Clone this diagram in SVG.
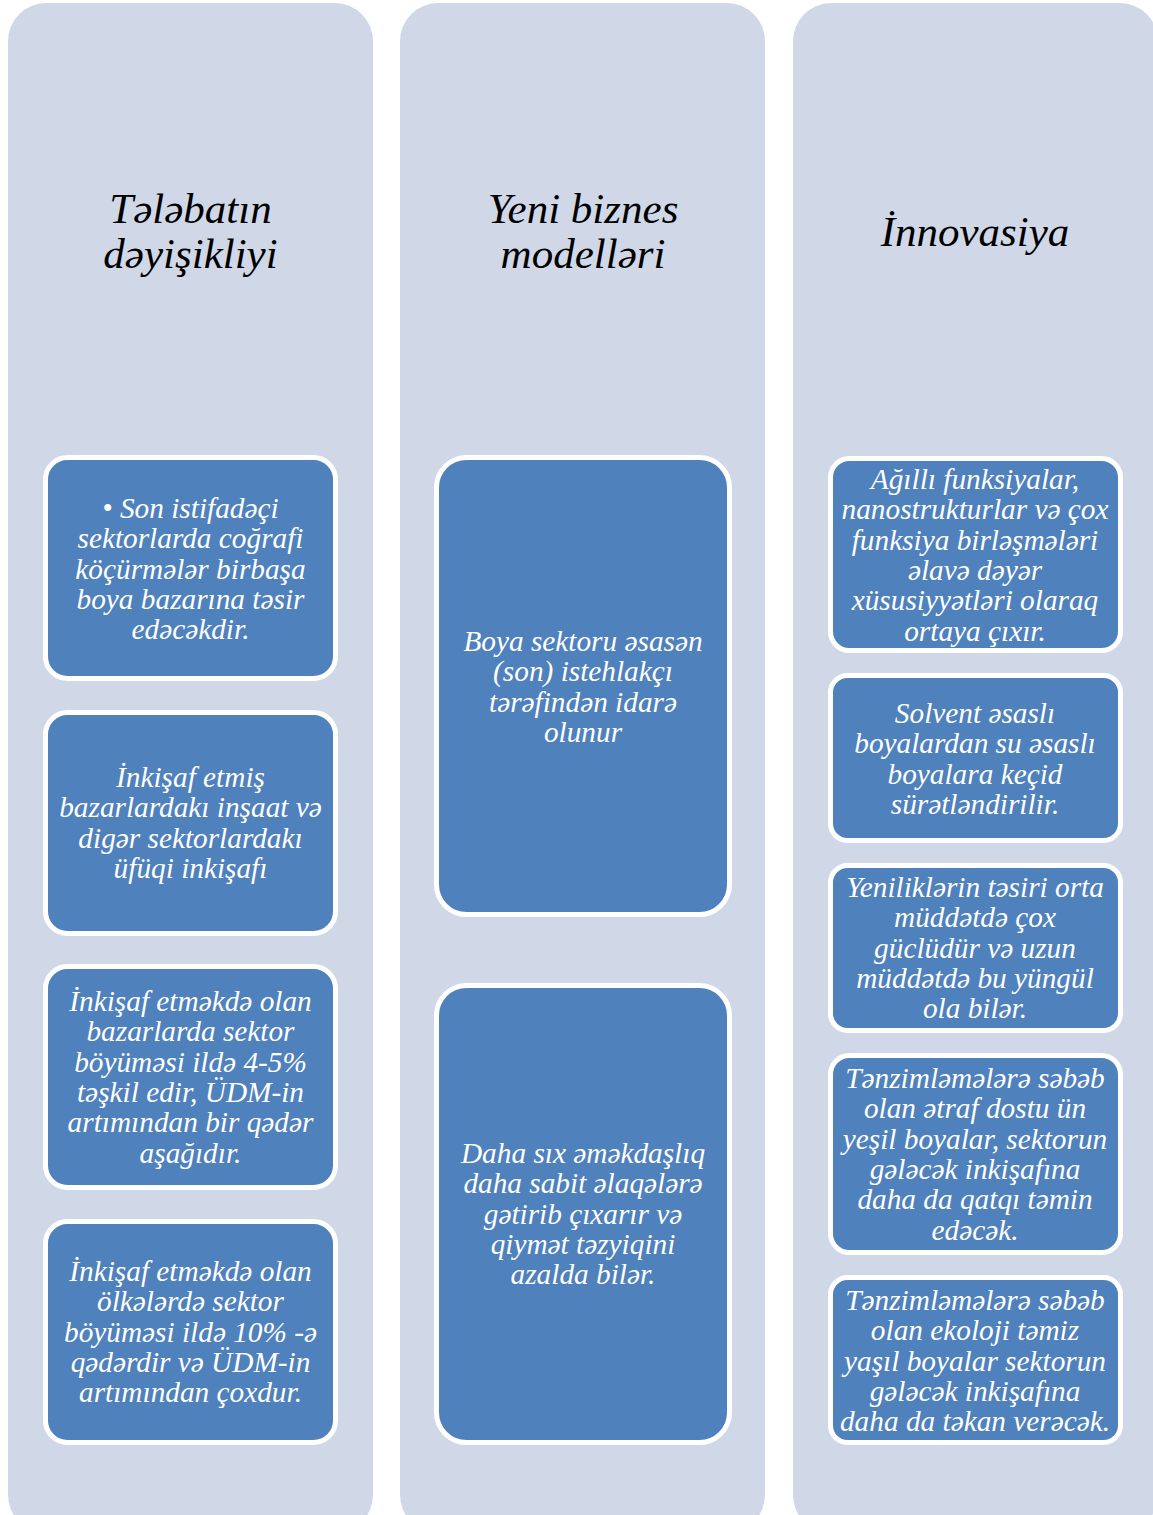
<svg xmlns="http://www.w3.org/2000/svg" width="1153" height="1515" viewBox="0 0 1153 1515">
<style>
.col{fill:#D0D8E8;}
.box{fill:#4F81BD;stroke:#FFFFFF;stroke-width:5;}
.title{font-family:"Liberation Serif","Times New Roman",serif;font-style:italic;font-size:43px;fill:#000000;text-anchor:middle;}
.t{font-family:"Liberation Serif","Times New Roman",serif;font-style:italic;font-size:29.3px;fill:#FFFFFF;text-anchor:middle;}
</style>
<rect width="1153" height="1515" fill="#FFFFFF"/>
<g id="col1">
<rect class="col" x="8" y="3" width="365" height="1530" rx="38"/>
<text class="title" x="190.5" y="223">Tələbatın<tspan x="190.5" dy="45">dəyişikliyi</tspan></text>
</g>
<g id="col2">
<rect class="col" x="400" y="3" width="365" height="1530" rx="38"/>
<text class="title" x="583" y="223">Yeni biznes<tspan x="583" dy="45">modelləri</tspan></text>
</g>
<g id="col3">
<rect class="col" x="793" y="3" width="365" height="1530" rx="38"/>
<text class="title" x="975" y="246">İnnovasiya</text>
</g>
<g id="c1b1">
<rect class="box" x="45.5" y="457.5" width="290" height="221" rx="22"/>
<text class="t" x="190.5" y="518">• Son istifadəçi<tspan x="190.5" dy="30.3">sektorlarda coğrafi</tspan><tspan x="190.5" dy="30.3">köçürmələr birbaşa</tspan><tspan x="190.5" dy="30.3">boya bazarına təsir</tspan><tspan x="190.5" dy="30.3">edəcəkdir.</tspan></text>
</g>
<g id="c1b2">
<rect class="box" x="45.5" y="712.5" width="290" height="221" rx="22"/>
<text class="t" x="190.5" y="787">İnkişaf etmiş<tspan x="190.5" dy="30.3">bazarlardakı inşaat və</tspan><tspan x="190.5" dy="30.3">digər sektorlardakı</tspan><tspan x="190.5" dy="30.3">üfüqi inkişafı</tspan></text>
</g>
<g id="c1b3">
<rect class="box" x="45.5" y="966.5" width="290" height="221" rx="22"/>
<text class="t" x="190.5" y="1011">İnkişaf etməkdə olan<tspan x="190.5" dy="30.3">bazarlarda sektor</tspan><tspan x="190.5" dy="30.3">böyüməsi ildə 4-5%</tspan><tspan x="190.5" dy="30.3">təşkil edir, ÜDM-in</tspan><tspan x="190.5" dy="30.3">artımından bir qədər</tspan><tspan x="190.5" dy="30.3">aşağıdır.</tspan></text>
</g>
<g id="c1b4">
<rect class="box" x="45.5" y="1221.5" width="290" height="221" rx="22"/>
<text class="t" x="190.5" y="1281">İnkişaf etməkdə olan<tspan x="190.5" dy="30.3">ölkələrdə sektor</tspan><tspan x="190.5" dy="30.3">böyüməsi ildə 10% -ə</tspan><tspan x="190.5" dy="30.3">qədərdir və ÜDM-in</tspan><tspan x="190.5" dy="30.3">artımından çoxdur.</tspan></text>
</g>
<g id="c2b1">
<rect class="box" x="436.5" y="457.5" width="293" height="457" rx="30"/>
<text class="t" x="583" y="651">Boya sektoru əsasən<tspan x="583" dy="30.3">(son) istehlakçı</tspan><tspan x="583" dy="30.3">tərəfindən idarə</tspan><tspan x="583" dy="30.3">olunur</tspan></text>
</g>
<g id="c2b2">
<rect class="box" x="436.5" y="985.5" width="293" height="457" rx="30"/>
<text class="t" x="583" y="1163">Daha sıx əməkdaşlıq<tspan x="583" dy="30.3">daha sabit əlaqələrə</tspan><tspan x="583" dy="30.3">gətirib çıxarır və</tspan><tspan x="583" dy="30.3">qiymət təzyiqini</tspan><tspan x="583" dy="30.3">azalda bilər.</tspan></text>
</g>
<g id="c3b1">
<rect class="box" x="830.5" y="458.5" width="290" height="192" rx="19"/>
<text class="t" x="975" y="489">Ağıllı funksiyalar,<tspan x="975" dy="30.3">nanostrukturlar və çox</tspan><tspan x="975" dy="30.3">funksiya birləşmələri</tspan><tspan x="975" dy="30.3">əlavə dəyər</tspan><tspan x="975" dy="30.3">xüsusiyyətləri olaraq</tspan><tspan x="975" dy="30.3">ortaya çıxır.</tspan></text>
</g>
<g id="c3b2">
<rect class="box" x="830.5" y="675.5" width="290" height="165" rx="17"/>
<text class="t" x="975" y="723">Solvent əsaslı<tspan x="975" dy="30.3">boyalardan su əsaslı</tspan><tspan x="975" dy="30.3">boyalara keçid</tspan><tspan x="975" dy="30.3">sürətləndirilir.</tspan></text>
</g>
<g id="c3b3">
<rect class="box" x="830.5" y="865.5" width="290" height="165" rx="17"/>
<text class="t" x="975" y="897">Yeniliklərin təsiri orta<tspan x="975" dy="30.3">müddətdə çox</tspan><tspan x="975" dy="30.3">güclüdür və uzun</tspan><tspan x="975" dy="30.3">müddətdə bu yüngül</tspan><tspan x="975" dy="30.3">ola bilər.</tspan></text>
</g>
<g id="c3b4">
<rect class="box" x="830.5" y="1055.5" width="290" height="197" rx="19"/>
<text class="t" x="975" y="1088">Tənzimləmələrə səbəb<tspan x="975" dy="30.3">olan ətraf dostu ün</tspan><tspan x="975" dy="30.3">yeşil boyalar, sektorun</tspan><tspan x="975" dy="30.3">gələcək inkişafına</tspan><tspan x="975" dy="30.3">daha da qatqı təmin</tspan><tspan x="975" dy="30.3">edəcək.</tspan></text>
</g>
<g id="c3b5">
<rect class="box" x="830.5" y="1277.5" width="290" height="165" rx="17"/>
<text class="t" x="975" y="1310">Tənzimləmələrə səbəb<tspan x="975" dy="30.3">olan ekoloji təmiz</tspan><tspan x="975" dy="30.3">yaşıl boyalar sektorun</tspan><tspan x="975" dy="30.3">gələcək inkişafına</tspan><tspan x="975" dy="30.3">daha da təkan verəcək.</tspan></text>
</g>
<g id="connectors"></g>
</svg>
